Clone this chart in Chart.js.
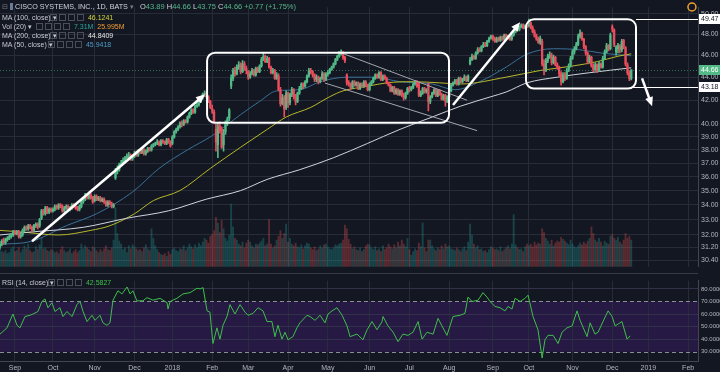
<!DOCTYPE html>
<html>
<head>
<meta charset="utf-8">
<script src="https://cdn.jsdelivr.net/npm/chart.js@4.4.1/dist/chart.umd.min.js"></script>
<style>
  body { margin: 0; background: #131722; }
  #wrap { position: relative; width: 720px; height: 372px; overflow: hidden; background: #131722; font-family: "Liberation Sans", Arial, sans-serif; }
  canvas { position: absolute; left: 0; }
  #c1 { top: 0; }
  #c2 { top: 274px; }
  #sep { position: absolute; left: 0; top: 273px; width: 698px; height: 1px; background: #363a45; }
  .leg { position: absolute; left: 2px; color: #c8cbd3; font-size: 7px; line-height: 9px; white-space: nowrap; }
  .ic { display: inline-block; width: 5px; height: 5px; border: 1px solid #4a4e5a; margin-right: 2px; vertical-align: -1px; }
  .g { color: #53b987; }
</style>
</head>
<body>
<div id="wrap">
  <canvas id="c1" width="720" height="274"></canvas>
  <canvas id="c2" width="720" height="98"></canvas>
  <div id="sep"></div>

  <div class="leg" style="top:2px;font-size:7.2px;color:#d1d4dc">
    <span style="color:#787b86">&#8863;</span>
    <span style="display:inline-block;width:3px;height:7px;background:#6a7a9a;vertical-align:-1px"></span>
    CISCO SYSTEMS, INC., 1D, BATS <span style="color:#787b86">&#9662;</span>
  </div>
  <div class="leg" style="top:2px;left:140px;font-size:7.5px;color:#d1d4dc">
    O<span class="g">43.89</span> H<span class="g">44.66</span> L<span class="g">43.75</span> C<span class="g">44.66</span> <span class="g">+0.77 (+1.75%)</span>
  </div>
  <div class="leg" style="top:13px">MA (100, close) &#9662;</div>
  <div class="leg" style="top:13px;left:50px"><span class="ic"></span><span class="ic"></span><span class="ic"></span><span class="ic"></span> <span style="color:#d6d63a">46.1241</span></div>
  <div class="leg" style="top:22px">Vol (20) &#9662;</div>
  <div class="leg" style="top:22px;left:36px"><span class="ic"></span><span class="ic"></span><span class="ic"></span><span class="ic"></span> <span style="color:#26a69a">7.31M</span> &nbsp;<span style="color:#f39c32">25.995M</span></div>
  <div class="leg" style="top:31px">MA (200, close) &#9662;</div>
  <div class="leg" style="top:31px;left:50px"><span class="ic"></span><span class="ic"></span><span class="ic"></span><span class="ic"></span> <span style="color:#e8e8e8">44.8409</span></div>
  <div class="leg" style="top:40px">MA (50, close) &#9662;</div>
  <div class="leg" style="top:40px;left:48px"><span class="ic"></span><span class="ic"></span><span class="ic"></span><span class="ic"></span> <span style="color:#4f9cc8">45.9418</span></div>
  <div class="leg" style="top:278px">RSI (14, close) &#9662;</div>
  <div class="leg" style="top:278px;left:48px"><span class="ic"></span><span class="ic"></span><span class="ic"></span><span class="ic"></span> <span style="color:#3fbf4a">42.5827</span></div>
</div>

<script>
// daily bars, Aug 22 2017 .. Dec 18 2018 (bar 0 = Sep 1 2017)
const firstBar = -8;

const opens = [
  31.2, 31.4, 31.7, 31.5, 31.7, 31.8, 31.9, 32.0,
  32.2, 32.1, 32.2, 31.9, 32.0, 32.3, 32.5, 32.4, 32.6, 32.5, 32.3, 32.6, 32.7, 32.6, 33.1, 33.6, 33.4, 33.8, 33.5, 33.7,
  33.6, 33.7, 33.9, 33.8, 34.0, 33.9, 33.6, 33.8, 33.9, 33.7, 33.8, 34.0, 33.9, 33.8, 33.7, 33.9, 34.2, 34.4, 34.6, 34.5, 34.7, 34.5,
  34.3, 34.6, 34.4, 34.5, 34.3, 34.4, 34.2, 34.0, 34.2, 34.1, 33.9, 35.9, 36.4, 36.5, 36.9, 37.0, 37.2, 37.4, 37.5, 37.6, 37.3,
  37.5, 37.7, 37.6, 37.9, 37.8, 38.0, 37.7, 37.9, 38.1, 38.0, 38.3, 38.4, 38.5, 38.6, 38.4, 38.7, 38.6, 38.5, 38.8, 38.6,
  38.5, 39.0, 39.4, 39.6, 39.8, 40.1, 40.0, 40.3, 40.2, 40.6, 40.9, 41.2, 41.0, 41.5, 41.6, 41.9, 42.2, 42.5, 42.6, 42.3, 41.9,
  41.3, 41.0, 39.6, 38.4, 39.9, 39.6, 38.4, 39.4, 40.1, 40.5, 43.2, 43.9, 44.6, 44.3, 44.9, 45.1, 44.5, 45.2, 44.8,
  44.5, 44.0, 44.3, 44.6, 44.2, 44.8, 44.5, 45.0, 45.6, 45.9, 45.4, 45.7, 44.9, 44.4, 44.6, 43.9, 44.1, 42.9, 41.7, 42.2, 41.4,
  42.6, 41.8, 42.5, 42.9, 42.3, 41.9, 42.6, 43.0, 43.4, 43.2, 43.6, 44.1, 44.6, 44.5, 44.2, 43.8, 44.0, 43.6, 43.9, 44.3, 43.8,
  44.3, 44.4, 44.7, 44.9, 45.2, 45.6, 45.9, 46.1, 46.3, 45.8, 44.2, 43.5, 43.4, 43.1, 43.6, 43.3, 43.5, 43.0, 43.4, 43.2, 43.6, 43.3,
  42.9, 43.4, 43.6, 43.9, 44.2, 44.0, 44.4, 43.8, 44.1, 43.9, 43.5, 43.3, 42.8, 43.1, 42.6, 42.9, 42.5, 42.8, 42.4, 42.2, 42.6,
  43.0, 42.9, 43.1, 43.4, 43.6, 43.4, 42.4, 42.6, 43.0, 42.7, 43.4, 41.9, 42.3, 42.6, 42.9, 42.4, 42.8, 42.5, 42.1, 42.4, 41.9,
  42.3, 42.8, 43.3, 43.5, 43.7, 43.4, 43.9, 43.6, 43.8, 44.0, 43.7, 45.2, 45.6, 45.9, 45.7, 46.2, 46.5, 46.4, 46.8, 47.0, 46.9, 47.3, 47.6,
  47.8, 47.5, 47.3, 47.6, 47.4, 47.7, 47.5, 47.9, 47.6, 47.8, 47.5, 47.9, 48.2, 48.5, 48.4, 48.7, 48.9, 48.6, 48.8,
  48.8, 49.1, 48.6, 48.2, 47.8, 47.5, 47.2, 47.3, 45.2, 44.6, 45.5, 45.9, 46.0, 45.3, 45.8, 45.1, 44.9, 44.3, 43.6, 44.2, 43.9, 44.6, 45.0,
  45.7, 46.3, 46.6, 47.0, 47.8, 48.1, 47.5, 46.8, 46.2, 45.4, 45.8, 45.0, 44.7, 45.1, 44.6, 45.2, 44.9, 45.7, 46.3, 46.9, 46.6,
  48.7, 48.4, 46.3, 46.6, 46.8, 46.5, 47.4, 46.7, 45.1, 44.4, 43.89
];
const highs = [
  31.6, 31.7, 31.8, 31.8, 31.9, 32.0, 32.1, 32.3,
  32.3, 32.3, 32.3, 32.1, 32.4, 32.6, 32.6, 32.7, 32.7, 32.6, 32.7, 32.8, 32.8, 33.1, 33.7, 33.7, 33.9, 33.9, 33.8, 33.8,
  33.8, 34.0, 34.0, 34.1, 34.1, 34.0, 33.9, 34.0, 34.0, 33.9, 34.1, 34.1, 34.0, 33.9, 34.0, 34.3, 34.5, 34.8, 34.7, 34.9, 34.8, 34.6,
  34.7, 34.7, 34.6, 34.6, 34.5, 34.5, 34.3, 34.3, 34.3, 34.2, 34.1, 36.6, 36.8, 37.0, 37.2, 37.4, 37.5, 37.7, 37.8, 37.7, 37.6,
  37.9, 37.9, 38.0, 38.0, 38.1, 38.1, 38.0, 38.2, 38.2, 38.4, 38.5, 38.6, 38.8, 38.7, 38.8, 38.8, 38.7, 38.9, 38.9, 38.7,
  39.1, 39.5, 39.7, 39.9, 40.2, 40.3, 40.4, 40.4, 40.7, 41.0, 41.3, 41.3, 41.6, 41.8, 42.0, 42.3, 42.6, 42.8, 42.7, 42.4, 42.0,
  41.6, 41.2, 40.0, 40.1, 40.2, 39.8, 39.6, 40.3, 40.6, 41.3, 44.2, 44.8, 44.9, 45.1, 45.4, 45.3, 45.5, 45.4, 45.0,
  44.6, 44.5, 44.8, 44.7, 44.9, 44.9, 45.1, 45.8, 46.2, 46.0, 45.9, 45.8, 45.0, 44.8, 44.7, 44.4, 44.3, 43.1, 42.5, 42.4, 42.8,
  42.7, 42.6, 43.1, 43.0, 42.5, 42.7, 43.2, 43.5, 43.5, 43.7, 44.2, 44.8, 44.8, 44.6, 44.3, 44.2, 44.1, 44.0, 44.5, 44.4, 44.4,
  44.6, 44.8, 45.0, 45.3, 45.7, 46.0, 46.3, 46.5, 46.3, 45.9, 44.3, 43.7, 43.5, 43.7, 43.7, 43.6, 43.6, 43.5, 43.5, 43.7, 43.7, 43.4,
  43.5, 43.7, 44.0, 44.3, 44.3, 44.5, 44.5, 44.2, 44.2, 44.0, 43.6, 43.4, 43.2, 43.2, 43.0, 43.0, 42.9, 42.9, 42.6, 42.7, 43.1,
  43.2, 43.2, 43.5, 43.7, 43.7, 43.5, 42.8, 43.1, 43.1, 43.0, 43.5, 42.4, 42.7, 43.0, 43.0, 42.9, 42.9, 42.6, 42.5, 42.5, 42.4,
  42.9, 43.4, 43.6, 43.8, 43.8, 44.0, 44.0, 43.9, 44.2, 44.1, 44.2, 45.8, 46.1, 46.0, 46.3, 46.7, 46.7, 46.9, 47.2, 47.2, 47.4, 47.7, 47.9,
  47.9, 47.7, 47.7, 47.7, 47.8, 47.8, 48.0, 48.0, 47.9, 47.9, 48.0, 48.3, 48.6, 48.7, 48.8, 49.0, 49.0, 48.9, 48.9,
  49.47, 49.2, 48.8, 48.4, 48.0, 47.7, 47.8, 47.5, 45.6, 45.7, 46.1, 46.3, 46.2, 46.0, 45.9, 45.3, 45.0, 44.5, 44.4, 44.4, 44.8, 45.2, 45.9,
  46.5, 46.8, 47.2, 48.0, 48.4, 48.2, 47.6, 46.9, 46.3, 46.0, 45.9, 45.2, 45.3, 45.2, 45.4, 45.3, 45.9, 46.5, 47.1, 47.0, 48.1,
  48.9, 48.5, 46.9, 47.1, 47.0, 47.5, 47.5, 46.8, 45.3, 44.6, 44.66
];
const lows = [
  31.1, 31.3, 31.4, 31.4, 31.6, 31.7, 31.8, 31.9,
  32.0, 32.0, 31.8, 31.8, 31.9, 32.2, 32.3, 32.3, 32.4, 32.2, 32.2, 32.5, 32.4, 32.5, 33.0, 33.3, 33.3, 33.4, 33.4, 33.5,
  33.5, 33.6, 33.7, 33.7, 33.8, 33.5, 33.5, 33.7, 33.6, 33.6, 33.7, 33.8, 33.7, 33.6, 33.6, 33.8, 34.1, 34.3, 34.4, 34.4, 34.4, 34.1,
  34.2, 34.3, 34.3, 34.2, 34.2, 34.1, 33.9, 33.9, 34.0, 33.8, 33.8, 35.8, 36.2, 36.4, 36.8, 36.9, 37.1, 37.3, 37.4, 37.2, 37.2,
  37.4, 37.5, 37.5, 37.7, 37.7, 37.6, 37.6, 37.8, 37.9, 37.9, 38.2, 38.3, 38.4, 38.3, 38.3, 38.5, 38.4, 38.4, 38.5, 38.2,
  38.4, 38.9, 39.3, 39.5, 39.7, 39.8, 39.9, 40.1, 40.1, 40.5, 40.8, 40.9, 40.9, 41.4, 41.5, 41.8, 42.1, 42.3, 42.2, 41.8, 41.3,
  40.9, 40.1, 37.9, 37.4, 39.3, 38.1, 37.9, 39.2, 39.9, 40.3, 43.0, 43.7, 44.1, 44.2, 44.7, 44.3, 44.4, 44.6, 44.3,
  43.8, 43.9, 44.2, 44.1, 44.1, 44.4, 44.4, 44.9, 45.5, 45.3, 45.3, 44.8, 44.3, 44.3, 43.8, 43.8, 42.8, 41.5, 41.6, 40.6, 41.2,
  41.4, 41.6, 42.3, 42.1, 41.6, 41.8, 42.5, 42.9, 43.0, 43.1, 43.5, 44.0, 44.3, 44.0, 43.6, 43.6, 43.4, 43.5, 43.8, 43.6, 43.7,
  44.1, 44.3, 44.6, 44.8, 45.1, 45.5, 45.8, 46.0, 45.6, 45.3, 43.3, 43.2, 42.9, 43.0, 43.2, 43.2, 42.9, 42.9, 43.1, 43.1, 43.2, 42.8,
  42.8, 43.3, 43.5, 43.8, 43.9, 43.9, 43.7, 43.7, 43.8, 43.4, 43.2, 42.7, 42.7, 42.5, 42.5, 42.4, 42.4, 42.3, 42.0, 42.1, 42.5,
  42.7, 42.8, 43.0, 43.3, 43.1, 42.3, 42.3, 42.5, 42.6, 42.6, 41.1, 41.7, 42.2, 42.5, 42.3, 42.3, 42.4, 42.0, 42.0, 41.5, 41.8,
  42.2, 42.7, 43.2, 43.4, 43.3, 43.3, 43.5, 43.5, 43.7, 43.6, 43.6, 45.1, 45.5, 45.6, 45.6, 46.1, 46.3, 46.3, 46.7, 46.8, 46.8, 47.2, 47.5,
  47.4, 47.2, 47.2, 47.3, 47.3, 47.4, 47.4, 47.5, 47.5, 47.4, 47.4, 47.8, 48.1, 48.3, 48.3, 48.6, 48.5, 48.5, 48.6,
  48.7, 48.5, 48.1, 47.7, 47.4, 47.1, 47.0, 45.0, 44.2, 44.5, 45.3, 45.7, 45.1, 45.2, 45.0, 44.7, 44.1, 43.3, 43.5, 43.7, 43.8, 44.5, 44.9,
  45.6, 46.1, 46.5, 46.9, 47.6, 47.4, 46.6, 46.0, 45.2, 45.3, 44.9, 44.5, 44.6, 44.4, 44.5, 44.8, 44.8, 45.6, 46.2, 46.4, 46.5,
  48.2, 46.8, 46.0, 46.2, 46.2, 46.3, 46.6, 45.0, 44.2, 43.7, 43.75
];
const closes = [
  31.4, 31.6, 31.5, 31.7, 31.8, 31.9, 32.0, 32.2,
  32.1, 32.2, 31.9, 32.0, 32.3, 32.5, 32.4, 32.6, 32.5, 32.3, 32.6, 32.7, 32.5, 33.0, 33.6, 33.4, 33.8, 33.5, 33.7, 33.6,
  33.7, 33.9, 33.8, 34.0, 33.9, 33.6, 33.8, 33.9, 33.7, 33.8, 34.0, 33.9, 33.8, 33.7, 33.9, 34.2, 34.4, 34.6, 34.5, 34.7, 34.5, 34.2,
  34.6, 34.4, 34.5, 34.3, 34.4, 34.2, 34.0, 34.2, 34.1, 33.9, 34.0, 36.4, 36.5, 36.9, 37.0, 37.2, 37.4, 37.5, 37.6, 37.3, 37.5,
  37.7, 37.6, 37.9, 37.8, 38.0, 37.7, 37.9, 38.1, 38.0, 38.3, 38.4, 38.5, 38.6, 38.4, 38.7, 38.6, 38.5, 38.8, 38.6, 38.3,
  39.0, 39.4, 39.6, 39.8, 40.1, 40.0, 40.3, 40.2, 40.6, 40.9, 41.2, 41.0, 41.5, 41.6, 41.9, 42.2, 42.5, 42.6, 42.3, 41.9, 41.4,
  41.1, 40.2, 38.6, 39.8, 39.5, 38.2, 39.3, 40.1, 40.4, 41.2, 43.9, 44.6, 44.3, 44.9, 45.1, 44.5, 45.2, 44.8, 44.6,
  44.0, 44.3, 44.6, 44.2, 44.8, 44.5, 45.0, 45.6, 45.9, 45.4, 45.7, 44.9, 44.4, 44.6, 43.9, 44.2, 42.9, 41.7, 42.2, 41.3, 42.6,
  41.8, 42.5, 42.9, 42.3, 41.9, 42.6, 43.0, 43.4, 43.2, 43.6, 44.1, 44.6, 44.5, 44.2, 43.8, 44.0, 43.6, 43.9, 44.3, 43.8, 44.3,
  44.4, 44.7, 44.9, 45.2, 45.6, 45.9, 46.1, 46.3, 45.8, 45.5, 43.5, 43.4, 43.1, 43.6, 43.3, 43.5, 43.0, 43.4, 43.2, 43.6, 43.3, 42.9,
  43.4, 43.6, 43.9, 44.2, 44.0, 44.4, 43.8, 44.1, 43.9, 43.5, 43.3, 42.8, 43.1, 42.6, 42.9, 42.5, 42.8, 42.4, 42.2, 42.6, 43.0,
  42.9, 43.1, 43.4, 43.6, 43.2, 42.4, 42.6, 43.0, 42.7, 42.9, 41.9, 42.3, 42.6, 42.9, 42.4, 42.8, 42.5, 42.1, 42.4, 41.9, 42.3,
  42.8, 43.3, 43.5, 43.7, 43.4, 43.9, 43.6, 43.8, 44.0, 43.7, 44.1, 45.6, 45.9, 45.7, 46.2, 46.5, 46.4, 46.8, 47.0, 46.9, 47.3, 47.6, 47.8,
  47.5, 47.3, 47.6, 47.4, 47.7, 47.5, 47.9, 47.6, 47.8, 47.5, 47.9, 48.2, 48.5, 48.4, 48.7, 48.9, 48.6, 48.8, 48.7,
  49.1, 48.6, 48.2, 47.8, 47.5, 47.2, 47.6, 45.2, 44.6, 45.5, 45.9, 46.0, 45.3, 45.8, 45.1, 44.9, 44.3, 43.6, 44.2, 43.9, 44.6, 45.0, 45.7,
  46.3, 46.6, 47.0, 47.8, 48.1, 47.5, 46.8, 46.2, 45.4, 45.8, 45.0, 44.7, 45.1, 44.6, 45.2, 44.9, 45.7, 46.3, 46.9, 46.6, 47.9,
  48.5, 47.0, 46.7, 46.9, 46.5, 47.3, 46.8, 45.2, 44.4, 43.89, 44.66
];
// volume, millions
const volumes = [
  18, 16, 15, 17, 14, 15, 19, 21,
  16, 17, 20, 15, 18, 22, 19, 24, 17, 15, 16, 21, 18, 23, 30, 19, 20, 17, 16, 18,
  17, 15, 16, 14, 18, 21, 17, 15, 16, 19, 14, 16, 18, 15, 17, 24, 19, 22, 20, 18, 16, 21,
  20, 17, 15, 18, 16, 19, 22, 18, 17, 20, 28, 62, 35, 27, 24, 18, 20, 15, 22, 19, 23,
  21, 19, 17, 18, 16, 20, 23, 19, 17, 40, 30, 22, 18, 15, 13, 12, 14, 11, 16, 13,
  18, 20, 17, 16, 19, 18, 22, 17, 20, 24, 21, 19, 23, 20, 25, 22, 26, 30, 28, 25, 32,
  34, 38, 52, 46, 36, 49, 40, 30, 27, 33, 66, 42, 30, 28, 24, 22, 26, 20, 25,
  28, 26, 22, 20, 24, 23, 25, 27, 30, 22, 24, 50, 24, 20, 22, 28, 32, 38, 30, 35, 45,
  26, 30, 24, 22, 25, 21, 20, 23, 19, 22, 25, 24, 20, 18, 21, 17, 19, 22, 20, 23, 24,
  21, 19, 18, 20, 23, 22, 24, 25, 28, 44, 40, 29, 24, 19, 21, 18, 17, 20, 16, 18, 22, 24,
  23, 20, 18, 21, 17, 19, 16, 22, 18, 20, 24, 21, 19, 23, 20, 26, 22, 28, 24, 21, 30,
  18, 12, 16, 19, 17, 25, 21, 46, 20, 16, 28, 28, 22, 19, 17, 20, 18, 22, 19, 24, 21,
  22, 19, 18, 17, 20, 18, 16, 19, 21, 17, 26, 45, 33, 24, 20, 22, 18, 19, 16, 17, 15, 18, 21,
  20, 18, 19, 17, 21, 16, 18, 20, 22, 19, 24, 55, 23, 20, 18, 19, 16, 21, 24,
  22, 24, 21, 26, 23, 25, 24, 40, 36, 30, 27, 24, 28, 22, 25, 27, 26, 31, 29, 27, 25, 23, 28,
  24, 21, 20, 22, 25, 23, 26, 24, 27, 30, 42, 35, 28, 26, 30, 26, 22, 27, 25, 24, 32,
  34, 30, 28, 31, 26, 24, 28, 35, 30, 32, 28
];

// moving averages, read at sample bars
const ma50Bars = [-8, 9, 27, 43, 62, 76, 91, 104, 119, 129, 138, 150, 161, 175, 189, 203, 220, 232, 245, 259, 270, 284, 298, 309, 325];
const ma50 = [31.4, 31.6, 32.6, 33.4, 34.9, 36.6, 38.0, 39.1, 40.8, 41.9, 42.8, 42.9, 43.6, 44.0, 44.0, 43.6, 43.4, 42.9, 43.6, 44.9, 46.1, 46.6, 46.5, 46.2, 45.94];
const ma100Bars = [-8, 3, 23, 40, 50, 63, 73, 87, 103, 119, 133, 143, 156, 166, 173, 186, 196, 210, 224, 235, 259, 277, 294, 307, 318, 325];
const ma100 = [32.3, 32.2, 32.0, 32.3, 32.6, 33.4, 34.3, 35.0, 36.6, 38.2, 39.6, 40.6, 41.4, 42.3, 42.8, 43.2, 43.5, 43.6, 43.5, 43.4, 44.0, 44.6, 45.0, 45.4, 45.9, 46.12];
const ma200Bars = [-8, 9, 36, 59, 81, 101, 119, 133, 150, 168, 186, 203, 220, 235, 251, 259, 270, 286, 303, 325];
const ma200 = [32.0, 32.2, 32.5, 33.1, 33.6, 34.4, 35.0, 35.8, 36.5, 37.4, 38.5, 39.6, 40.6, 41.5, 42.3, 42.7, 43.5, 44.0, 44.4, 44.84];

// RSI(14)
const rsiBars = [
  -7.9, -4.2, -1.1, 1.1, 2.6, 5.3, 7.9, 9.5, 12.1, 14.2, 15.8, 17.4, 19.5, 21.1, 23.7, 25.3, 27.4, 30.1, 32.7, 34.3,
  35.9, 38.0, 40.6, 42.2, 44.8, 46.4, 48.5, 50.1, 51.7, 54.3, 56.4, 59.1, 60.7, 62.2, 64.3, 67.5, 69.6, 72.8, 76.5, 80.2,
  80.7, 81.8, 85.4, 88.6, 92.3, 96.0, 97.6, 99.2, 101.3, 102.8, 104.4, 106.5, 108.1, 109.7, 111.8, 113.4, 116.0, 118.7, 121.3, 122.9,
  125.5, 128.2, 130.8, 132.9, 135.5, 137.1, 138.7, 140.8, 142.4, 144.0, 146.6, 148.7, 150.3, 154.0, 155.6, 158.2, 160.9, 163.5, 165.1, 167.2,
  169.8, 172.5, 175.1, 176.7, 180.4, 183.5, 185.7, 188.3, 190.9, 193.6, 194.1, 196.7, 199.4, 202.0, 204.6, 207.3, 209.9, 212.6, 214.7, 217.3,
  220.5, 223.1, 225.2, 227.8, 231.0, 234.7, 237.3, 238.9, 241.0, 244.2, 246.8, 248.9, 250.5, 253.2, 255.8, 258.4, 260.0, 262.1, 263.7, 266.4,
  269.0, 270.6, 273.2, 275.8, 278.0, 279.5, 281.1, 283.8, 286.4, 288.5, 291.1, 293.8, 296.4, 298.0, 301.7, 303.3, 305.9, 307.5, 310.1, 312.8,
  314.9, 316.5, 320.1, 322.8, 324.4
];
const rsiValues = [
  44, 49, 60, 51, 49, 58, 59, 60, 62, 70, 72, 65, 69, 62, 65, 58, 62, 58, 67.5, 70,
  62, 54, 59, 55, 59, 53, 51, 53, 71, 78.5, 76, 81.5, 76, 78.5, 70.5, 70.5, 73, 71, 72.5, 69,
  64, 70, 72.5, 76, 77, 80.5, 80, 81, 62.5, 61.5, 36.5, 49, 40, 51, 58, 67.5, 60, 67.5, 61.5, 59,
  60.5, 65, 62.5, 54, 54, 42, 51, 40, 45.5, 39.5, 42, 49, 53, 59, 58, 55, 59, 53, 60, 62.5,
  65, 59, 50.5, 42, 44, 39.5, 47.5, 54, 47.5, 54, 58, 50.5, 45.5, 38, 44, 43, 45.5, 54, 40, 45.5,
  44, 56.5, 50.5, 43, 58, 59, 60.5, 73.5, 70, 71, 77, 73.5, 70, 66, 65, 62.5, 66, 64, 72.5, 70,
  72.5, 75, 58, 47.5, 25, 39.5, 43, 43, 36.5, 45.5, 49, 50.5, 62.5, 55, 42, 53, 44, 45.5, 54, 62.5,
  58, 50.5, 54, 40, 42.58
];

// axis ticks
const monthBars = [0, 20, 42, 63, 83, 104, 123, 144, 165, 187, 208, 229, 252, 271, 294, 315, 334, 355];
const monthLabels = ['Sep', 'Oct', 'Nov', 'Dec', '2018', 'Feb', 'Mar', 'Apr', 'May', 'Jun', 'Jul', 'Aug', 'Sep', 'Oct', 'Nov', 'Dec', '2019', 'Feb'];
const priceTicks = [50, 48, 46, 44, 42, 40, 39, 38, 37, 36, 35, 34, 33, 32, 31.2, 30.4];
const rsiTicks = [80, 70, 60, 50, 40, 30];

// drawings on the chart (bar, price)
const lastPrice = 44.66;
const boxes = [[101.3, 228.9, 40.13, 46.23], [269.5, 327.5, 43.0, 49.45]];
const arrows = [[9.0, 31.6, 100.2, 42.5], [231.0, 41.6, 266.4, 49.15], [330.7, 43.9, 336.0, 41.5]];
const trendLines = [[170.4, 46.32, 238.4, 42.0], [163.5, 43.48, 243.7, 39.5]];
const hRays = [[327.5, 49.47], [326.0, 43.18]];

const UP = '#53b987', DN = '#eb4d5c', GRID = '#282c38', AXIS = '#434651', TXT = '#b2b5be';
const X_MIN = -7.9, X_MAX = 360.2;

const bars = closes.map((c, i) => i + firstBar);
const isUp = closes.map((c, i) => c >= opens[i]);
const candleColors = isUp.map(u => u ? UP : DN);
const volColors = isUp.map(u => u ? 'rgba(38,166,154,0.32)' : 'rgba(239,83,80,0.32)');
const pts = (xs, ys) => xs.map((x, i) => ({ x, y: ys[i] }));

function rrect(ctx, x, y, w, h, r) {
  ctx.beginPath();
  ctx.moveTo(x + r, y);
  ctx.arcTo(x + w, y, x + w, y + h, r);
  ctx.arcTo(x + w, y + h, x, y + h, r);
  ctx.arcTo(x, y + h, x, y, r);
  ctx.arcTo(x, y, x + w, y, r);
  ctx.closePath();
}

function arrow(ctx, x1, y1, x2, y2) {
  const a = Math.atan2(y2 - y1, x2 - x1), L = 9, W = 4;
  ctx.beginPath();
  ctx.moveTo(x1, y1);
  ctx.lineTo(x2 - Math.cos(a) * L * 0.7, y2 - Math.sin(a) * L * 0.7);
  ctx.stroke();
  ctx.beginPath();
  ctx.moveTo(x2, y2);
  ctx.lineTo(x2 - L * Math.cos(a) + W * Math.sin(a), y2 - L * Math.sin(a) - W * Math.cos(a));
  ctx.lineTo(x2 - L * Math.cos(a) - W * Math.sin(a), y2 - L * Math.sin(a) + W * Math.cos(a));
  ctx.closePath();
  ctx.fill();
}

function priceTag(ctx, yPix, text, bg, fg) {
  ctx.fillStyle = bg;
  ctx.fillRect(699, Math.round(yPix) - 5, 21, 10);
  ctx.fillStyle = fg;
  ctx.font = '7px "Liberation Sans", Arial, sans-serif';
  ctx.textBaseline = 'middle';
  ctx.textAlign = 'left';
  ctx.fillText(text, 701, Math.round(yPix));
}

const drawings = {
  id: 'drawings',
  afterDatasetsDraw(chart) {
    const { ctx, chartArea, scales: { x, y } } = chart;
    const px = v => x.getPixelForValue(v), py = v => y.getPixelForValue(v);
    ctx.save();

    // last price line
    ctx.strokeStyle = 'rgba(83,185,135,0.55)';
    ctx.lineWidth = 1;
    ctx.setLineDash([1, 2]);
    ctx.beginPath();
    ctx.moveTo(chartArea.left, Math.round(py(lastPrice)) + 0.5);
    ctx.lineTo(chartArea.right, Math.round(py(lastPrice)) + 0.5);
    ctx.stroke();
    ctx.setLineDash([]);

    ctx.strokeStyle = '#a3a6af';
    trendLines.forEach(t => {
      ctx.beginPath();
      ctx.moveTo(px(t[0]), py(t[1]));
      ctx.lineTo(px(t[2]), py(t[3]));
      ctx.stroke();
    });

    ctx.strokeStyle = '#ffffff';
    ctx.fillStyle = '#ffffff';
    ctx.lineWidth = 2;
    boxes.forEach(b => {
      rrect(ctx, px(b[0]), py(b[3]), px(b[1]) - px(b[0]), py(b[2]) - py(b[3]), 8);
      ctx.stroke();
    });

    ctx.lineWidth = 1;
    hRays.forEach(r => {
      ctx.beginPath();
      ctx.moveTo(px(r[0]), Math.round(py(r[1])) + 0.5);
      ctx.lineTo(chartArea.right, Math.round(py(r[1])) + 0.5);
      ctx.stroke();
    });

    ctx.lineWidth = 2.5;
    arrows.forEach(a => arrow(ctx, px(a[0]), py(a[1]), px(a[2]), py(a[3])));

    // event marker near the top right
    ctx.strokeStyle = '#f0a030';
    ctx.lineWidth = 1.5;
    ctx.beginPath();
    ctx.arc(px(357), 7, 4, 0, Math.PI * 2);
    ctx.stroke();
    ctx.restore();
  },
  afterDraw(chart) {
    const { ctx, scales: { y } } = chart;
    ctx.save();
    priceTag(ctx, y.getPixelForValue(hRays[0][1]), hRays[0][1].toFixed(2), '#ffffff', '#131722');
    priceTag(ctx, y.getPixelForValue(lastPrice), lastPrice.toFixed(2), '#53b987', '#ffffff');
    priceTag(ctx, y.getPixelForValue(hRays[1][1]), hRays[1][1].toFixed(2), '#ffffff', '#131722');
    ctx.restore();
  }
};

const rsiBand = {
  id: 'rsiBand',
  beforeDraw(chart) {
    const { ctx, chartArea, scales: { y } } = chart;
    ctx.save();
    ctx.fillStyle = '#261a44';
    ctx.fillRect(chartArea.left, y.getPixelForValue(70), chartArea.right - chartArea.left, y.getPixelForValue(30) - y.getPixelForValue(70));
    ctx.restore();
  },
  beforeDatasetsDraw(chart) {
    const { ctx, chartArea, scales: { y } } = chart;
    ctx.save();
    ctx.strokeStyle = '#8a8d96';
    ctx.lineWidth = 1;
    ctx.setLineDash([4, 3]);
    [70, 30].forEach(v => {
      const yy = Math.round(y.getPixelForValue(v)) + 0.5;
      ctx.beginPath();
      ctx.moveTo(chartArea.left, yy);
      ctx.lineTo(chartArea.right, yy);
      ctx.stroke();
    });
    ctx.restore();
  }
};

const xGrid = { color: GRID, drawTicks: false, offset: false };
const monthTicks = s => { s.ticks = monthBars.map(v => ({ value: v })); };

new Chart(document.getElementById('c1'), {
  type: 'bar',
  data: {
    datasets: [
      { type: 'line', data: pts(ma200Bars, ma200), borderColor: '#d1d4dc', borderWidth: 1, pointRadius: 0, cubicInterpolationMode: 'monotone', yAxisID: 'y', order: 3 },
      { type: 'line', data: pts(ma100Bars, ma100), borderColor: '#b8b82a', borderWidth: 1, pointRadius: 0, cubicInterpolationMode: 'monotone', yAxisID: 'y', order: 3 },
      { type: 'line', data: pts(ma50Bars, ma50), borderColor: '#3a7197', borderWidth: 1, pointRadius: 0, cubicInterpolationMode: 'monotone', yAxisID: 'y', order: 3 },
      { data: bars.map((x, i) => ({ x, y: [Math.min(opens[i], closes[i]), Math.max(opens[i], closes[i])] })),
        backgroundColor: candleColors, barThickness: 1.6, minBarLength: 1, grouped: false, yAxisID: 'y', order: 1 },
      { data: bars.map((x, i) => ({ x, y: [lows[i], highs[i]] })),
        backgroundColor: candleColors, barThickness: 1, grouped: false, yAxisID: 'y', order: 2 },
      { data: pts(bars, volumes), backgroundColor: volColors, barThickness: 1.2, grouped: false, yAxisID: 'yv', order: 5 }
    ]
  },
  options: {
    responsive: false,
    animation: false,
    devicePixelRatio: 1,
    layout: { padding: 0 },
    plugins: { legend: { display: false }, tooltip: { enabled: false } },
    scales: {
      x: {
        type: 'linear', min: X_MIN, max: X_MAX, offset: false,
        grid: xGrid, border: { display: false }, ticks: { display: false },
        afterBuildTicks: monthTicks,
        afterFit: s => { s.height = 0; }
      },
      y: {
        type: 'logarithmic', position: 'right', min: 30.01, max: 50.674,
        grid: { color: GRID, drawTicks: false },
        border: { color: AXIS },
        ticks: { color: TXT, font: { size: 7, family: '"Liberation Sans", Arial, sans-serif' }, padding: 3, autoSkip: false, callback: v => Number(v).toFixed(2) },
        afterBuildTicks: s => { s.ticks = priceTicks.map(v => ({ value: v })); },
        afterFit: s => { s.width = 22; }
      },
      yv: { type: 'linear', display: false, min: 0, max: 273 }
    }
  },
  plugins: [drawings]
});

new Chart(document.getElementById('c2'), {
  type: 'line',
  data: {
    datasets: [
      { data: pts(rsiBars, rsiValues), borderColor: '#3fbf4a', borderWidth: 1, pointRadius: 0, tension: 0 }
    ]
  },
  options: {
    responsive: false,
    animation: false,
    devicePixelRatio: 1,
    layout: { padding: 0 },
    plugins: { legend: { display: false }, tooltip: { enabled: false } },
    scales: {
      x: {
        type: 'linear', min: X_MIN, max: X_MAX, offset: false,
        grid: xGrid, border: { color: AXIS },
        ticks: { color: TXT, font: { size: 7, family: '"Liberation Sans", Arial, sans-serif' }, padding: 3, autoSkip: false, maxRotation: 0,
                 callback: (v, i) => monthLabels[i] },
        afterBuildTicks: monthTicks,
        afterFit: s => { s.height = 11; }
      },
      y: {
        position: 'right', min: 22.6, max: 86.6,
        grid: { color: c => (c.tick && (c.tick.value === 70 || c.tick.value === 30)) ? 'rgba(0,0,0,0)' : '#33304a', drawTicks: false },
        border: { color: AXIS },
        ticks: { color: TXT, font: { size: 6, family: '"Liberation Sans", Arial, sans-serif' }, padding: 3, autoSkip: false, callback: v => Number(v).toFixed(4) },
        afterBuildTicks: s => { s.ticks = rsiTicks.map(v => ({ value: v })); },
        afterFit: s => { s.width = 22; }
      }
    }
  },
  plugins: [rsiBand]
});
</script>
</body>
</html>
